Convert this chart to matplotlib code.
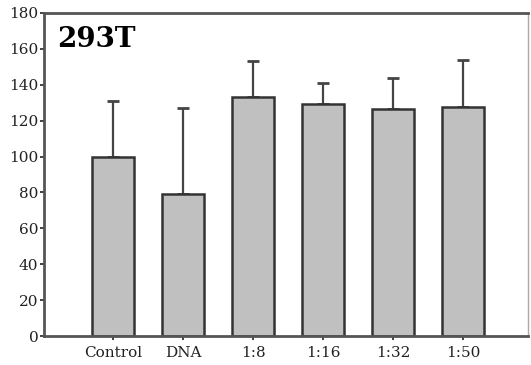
import numpy as np
import matplotlib.pyplot as plt

categories = ['Control', 'DNA', '1:8', '1:16', '1:32', '1:50']
values = [100, 79, 133, 129.5, 126.5, 127.5]
errors = [31, 48, 20, 11.5, 17.5, 26.5]
yticks = [0, 20, 40, 60, 80, 100, 120, 140, 160, 180]

plt.rcParams['font.family'] = ['DejaVu Serif']

fig = plt.figure(figsize=(5.31, 3.65), dpi=100)
ax = fig.add_axes([44 / 531, 1 - 336 / 365, (528 - 44) / 531, (336 - 13) / 365])

x = np.arange(len(categories))
ax.bar(x, values, width=0.6, color='#c0c0c0', edgecolor='#333333', linewidth=1.8, zorder=2)
ax.errorbar(x, values, yerr=[np.zeros(len(errors)), errors], fmt='none',
            ecolor='#444444', elinewidth=1.6, capsize=4, capthick=2, zorder=1)

ax.set_xlim(-0.99, 5.93)
ax.set_ylim(0, 180)
ax.set_yticks(yticks)
ax.set_xticks(x)
ax.set_xticklabels(categories)
ax.tick_params(axis='both', labelsize=11, colors='#222222', length=3, width=1.2)
ax.tick_params(axis='y', pad=1)
ax.tick_params(axis='x', pad=4)

for side in ['left', 'bottom', 'top']:
    ax.spines[side].set_color('#555555')
    ax.spines[side].set_linewidth(2)
ax.spines['right'].set_color('#aaaaaa')
ax.spines['right'].set_linewidth(1)

ax.text(13 / 484, 1 - 13 / 323, '293T', transform=ax.transAxes, fontsize=20,
        fontweight='bold', va='top', ha='left')

fig.savefig('out.png', dpi=100)
